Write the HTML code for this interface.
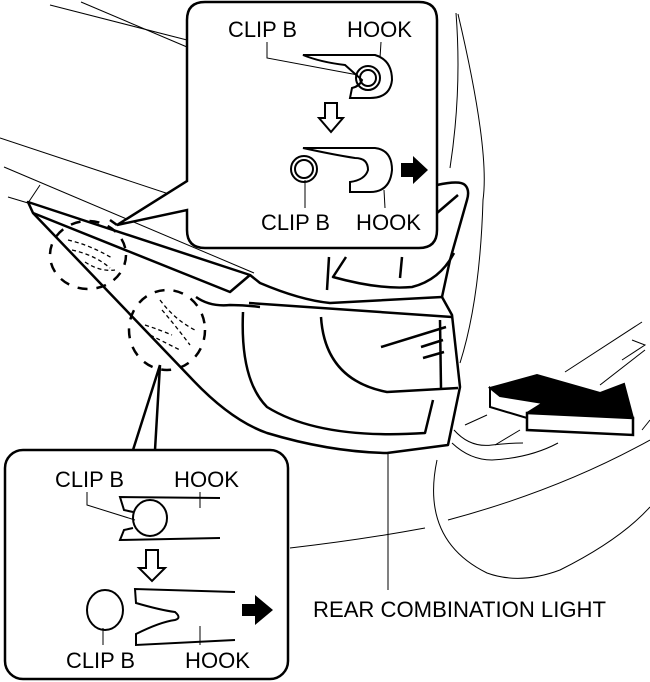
<!DOCTYPE html>
<html><head><meta charset="utf-8"><style>
html,body{margin:0;padding:0;background:#fff;}
svg{display:block;}
text{font-family:"Liberation Sans",sans-serif;fill:#000;}
</style></head><body>
<svg width="650" height="682" viewBox="0 0 650 682" xmlns="http://www.w3.org/2000/svg">
<g fill="none" stroke="#000" stroke-width="1">
<path d="M50 5 L187 40"/>
<path d="M81 2 L187 47"/>
<path d="M0 138 L187 200"/>
<path d="M4 167 L254 273"/>
<path d="M8 197 L28 203"/>
<path d="M28 203 L40 185"/>
<path d="M456 13 Q462 90 450 168"/>
<path d="M458 14 Q490 150 483 200 Q480 300 460 363"/>
<path d="M290 548 Q360 540 425 528"/>
<path d="M448 520 Q560 490 650 440"/>
<path d="M437 460 Q420 540 487 573 Q520 585 560 570 Q620 540 650 507"/>
<path d="M454 430 Q470 448 492 445 Q510 443 523 443"/>
<path d="M452 443 Q470 460 492 460 Q530 458 558 443"/>
<path d="M565 372 L642 322"/>
<path d="M600 385 L645 350"/>
<path d="M632 340 L645 345 L622 360"/>
<path d="M465 425 L487 415"/>
<path d="M495 445 L520 430"/>
<path d="M642 430 L650 420"/>
<path d="M388 453 L388 590"/>
</g>
<g fill="none" stroke="#000" stroke-width="2.5" stroke-linejoin="round">
<path d="M28 202 L250 275 L230 292 L33 213 Z"/>
<path d="M33 213 L190 377 Q230 420 267 433 Q330 452 387 453 L448 445 L460 387 L452 315 L442 297"/>
<path d="M250 275 L260 283 Q300 300 330 303 L442 297"/>
<path d="M196 297 Q210 307 230 305 Q245 305 260 307"/>
<path d="M249 303 Q350 310 452 317"/>
<path d="M243 312 Q240 380 267 407 Q320 440 425 433 L433 400"/>
<path d="M321 317 Q325 380 387 392 L458 388"/>
<path d="M440 320 L441 388"/>
<path d="M381 347 L446 327 M421 347 L443 340 M423 358 L444 352"/>
<path d="M329 257 L327 290 M346 257 L333 277 Q380 290 412 287 Q440 280 454 253"/>
<path d="M402 257 L400 278"/>
<path d="M437 185 Q460 180 465 185 Q470 190 467 200 L450 260 L442 297"/>
<path d="M458 195 L437 213"/>
</g>
<g fill="none" stroke="#000" stroke-width="2.5" stroke-dasharray="10 9">
<ellipse cx="88" cy="255" rx="38" ry="34"/>
<ellipse cx="167" cy="330" rx="38" ry="40"/>
</g>
<g fill="none" stroke="#000" stroke-width="1.3" stroke-dasharray="4 3">
<path d="M68 240 Q90 245 112 258"/>
<path d="M72 250 Q95 255 110 268"/>
<path d="M85 262 Q100 272 115 270"/>
<path d="M160 300 Q175 320 195 330"/>
<path d="M145 325 Q160 330 172 335"/>
<path d="M150 335 Q170 345 180 350"/>
<path d="M162 310 Q175 325 190 345"/>
</g>
<polygon points="490,388 537,375 600,393 624,384 633,418 527,413 543,403 500,396" fill="#000" stroke="#000" stroke-width="2"/>
<polygon points="490,388 500,396 543,403 527,413 527,418 490,407" fill="#fff" stroke="#000" stroke-width="2"/>
<polygon points="527,413 633,418 633,435 527,430" fill="#fff" stroke="#000" stroke-width="2.5"/>

<path d="M205 2 H419 Q437 2 437 20 V230 Q437 248 419 248 H205 Q187 248 187 230 V210 L117 225 L187 181 V20 Q187 2 205 2 Z" fill="#fff" stroke="#000" stroke-width="2.5"/>
<path d="M117 225 L110 220" stroke="#000" stroke-width="2.5"/>
<text x="228" y="37" font-size="22" textLength="69" lengthAdjust="spacingAndGlyphs">CLIP B</text>
<text x="347" y="37" font-size="22" textLength="65" lengthAdjust="spacingAndGlyphs">HOOK</text>
<g fill="none" stroke="#000" stroke-width="1">
<path d="M267 42 L267 58 L358 75"/>
<path d="M381 42 L380 58"/>
<path d="M305 208 L305 180"/>
<path d="M385 208 L384 190"/>
</g>
<g fill="none" stroke="#000" stroke-width="2">
<path d="M303 55 L375 55 Q392 60 392 80 Q390 98 370 98 L350 98 L352 88 Q360 86 362 80 L345 65 Q320 62 303 55 Z"/>
<circle cx="368" cy="78" r="12"/>
<circle cx="368" cy="78" r="8"/>
<path d="M325 103 H337 V118 H343 L331 132 L319 118 H325 Z"/>
<path d="M303 148 L375 148 Q392 150 392 170 Q390 192 370 192 L350 192 L350 182 Q365 180 368 170 Q368 158 355 158 Q335 155 303 148 Z"/>
<circle cx="304" cy="169" r="13"/>
<circle cx="304" cy="169" r="9"/>
</g>
<path d="M401 163 H413 V156 L428 170 L413 184 V177 H401 Z" fill="#000"/>
<text x="261" y="230" font-size="22" textLength="69" lengthAdjust="spacingAndGlyphs">CLIP B</text>
<text x="356" y="230" font-size="22" textLength="65" lengthAdjust="spacingAndGlyphs">HOOK</text>

<path d="M133 450 L160 365 M155 450 L160 365" stroke="#000" stroke-width="2.5" fill="none"/>
<rect x="5" y="450" width="283" height="229" rx="18" fill="#fff" stroke="#000" stroke-width="2.5"/>
<text x="55" y="487" font-size="22" textLength="69" lengthAdjust="spacingAndGlyphs">CLIP B</text>
<text x="174" y="487" font-size="22" textLength="65" lengthAdjust="spacingAndGlyphs">HOOK</text>
<g fill="none" stroke="#000" stroke-width="1">
<path d="M87 492 L87 505 L135 520"/>
<path d="M200 492 L200 508"/>
<path d="M103 628 L103 645"/>
<path d="M200 626 L200 645"/>
</g>
<g fill="none" stroke="#000" stroke-width="2">
<path d="M220 498 L120 497 L124 510 L133 512"/>
<path d="M220 538 L120 540 L124 530 L133 528"/>
<ellipse cx="150" cy="518" rx="17" ry="18"/>
<path d="M146 550 H158 V568 H165 L152 581 L139 568 H146 Z"/>
<ellipse cx="105" cy="610" rx="18" ry="20"/>
<path d="M235 592 L135 589 L136 603 Q160 610 175 612 Q182 618 175 620 Q160 622 136 634 L136 645 L235 640"/>
</g>
<path d="M242 604 H255 V595 L273 610 L255 625 V616 H242 Z" fill="#000"/>
<text x="66" y="668" font-size="22" textLength="69" lengthAdjust="spacingAndGlyphs">CLIP B</text>
<text x="185" y="668" font-size="22" textLength="65" lengthAdjust="spacingAndGlyphs">HOOK</text>

<text x="313" y="617" font-size="22" textLength="293" lengthAdjust="spacingAndGlyphs">REAR COMBINATION LIGHT</text>
</svg>
</body></html>
